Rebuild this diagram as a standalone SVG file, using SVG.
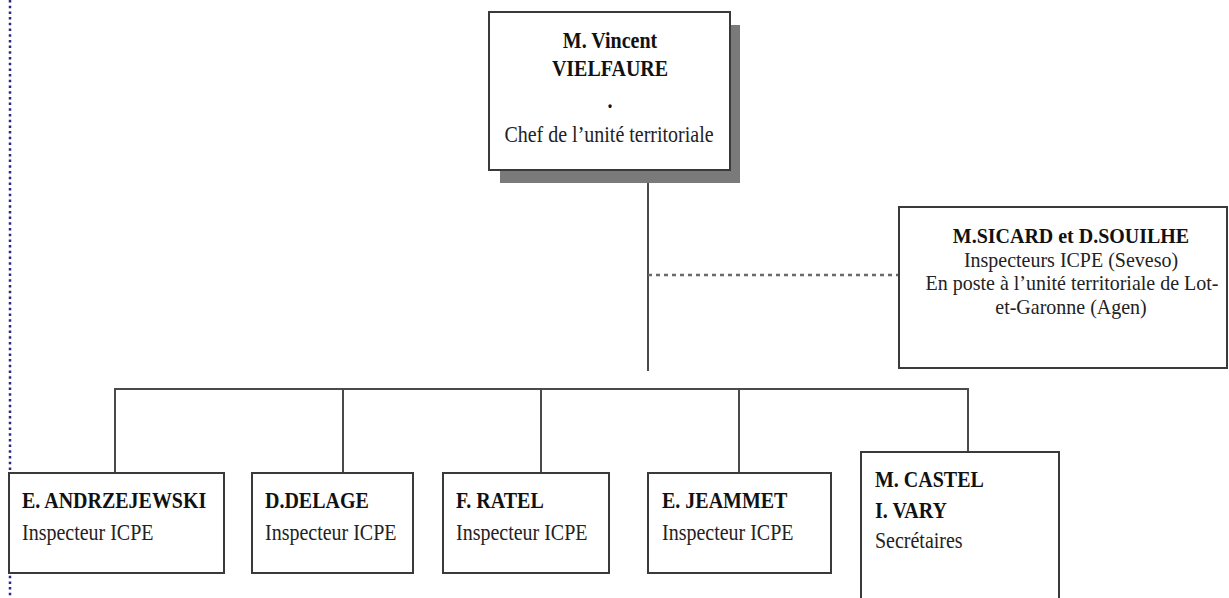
<svg xmlns="http://www.w3.org/2000/svg" width="1229" height="598" viewBox="0 0 1229 598">
<style>
.box{fill:#fff;stroke:#3a3a3a;stroke-width:2}
.shadow{fill:#7a7a7a}
.line{stroke:#4a4a4a;stroke-width:2;fill:none}
.dash{stroke:#6a6a6a;stroke-width:2.5;stroke-dasharray:4 4;fill:none}
.b{font-family:"Liberation Serif",serif;font-weight:bold;font-size:23.5px;fill:#111}
.r{font-family:"Liberation Serif",serif;font-size:23.5px;fill:#222}
.s{font-size:20.5px}
.c{text-anchor:middle}
</style>
<rect width="1229" height="598" fill="#fff"/>
<line x1="10" y1="0" x2="10" y2="598" stroke="#2b2b85" stroke-width="2.5" stroke-dasharray="2.5 3.2"/>
<g id="connectors">
<line class="line" x1="648" y1="170" x2="648" y2="371"/>
<line class="dash" x1="648" y1="275" x2="899" y2="275"/>
<line class="line" x1="115" y1="389" x2="969" y2="389"/>
<line class="line" x1="115" y1="388" x2="115" y2="473"/>
<line class="line" x1="343" y1="388" x2="343" y2="473"/>
<line class="line" x1="541" y1="388" x2="541" y2="473"/>
<line class="line" x1="739" y1="388" x2="739" y2="473"/>
<line class="line" x1="968" y1="388" x2="968" y2="452"/>
</g>
<g id="chef">
<rect class="shadow" x="500" y="25" width="240" height="158"/>
<rect class="box" x="489" y="12" width="241" height="158"/>
<text class="b c" transform="translate(610 48) scale(0.851 1)">M. Vincent</text>
<text class="b c" transform="translate(610 76) scale(0.851 1)">VIELFAURE</text>
<text class="b c" transform="translate(610 108) scale(0.851 1)">.</text>
<text class="r c" transform="translate(609 142) scale(0.851 1)">Chef de l’unité territoriale</text>
</g>
<g id="seveso">
<rect class="box" x="899" y="207" width="328" height="161"/>
<text class="b c s" transform="translate(1071 243) scale(0.975 1)">M.SICARD et D.SOUILHE</text>
<text class="r c s" transform="translate(1071 266.5) scale(0.975 1)">Inspecteurs ICPE (Seveso)</text>
<text class="r c s" transform="translate(1072 290) scale(0.975 1)">En poste à l’unité territoriale de Lot-</text>
<text class="r c s" transform="translate(1071 313.5) scale(0.975 1)">et-Garonne (Agen)</text>
</g>
<g id="andrzejewski">
<rect class="box" x="9" y="473" width="215" height="100"/>
<text class="b" transform="translate(22 508) scale(0.851 1)">E. ANDRZEJEWSKI</text>
<text class="r" transform="translate(22 540) scale(0.851 1)">Inspecteur ICPE</text>
</g>
<g id="delage">
<rect class="box" x="252" y="473" width="161" height="100"/>
<text class="b" transform="translate(265 508) scale(0.851 1)">D.DELAGE</text>
<text class="r" transform="translate(265 540) scale(0.851 1)">Inspecteur ICPE</text>
</g>
<g id="ratel">
<rect class="box" x="443" y="473" width="166" height="100"/>
<text class="b" transform="translate(456 508) scale(0.851 1)">F. RATEL</text>
<text class="r" transform="translate(456 540) scale(0.851 1)">Inspecteur ICPE</text>
</g>
<g id="jeammet">
<rect class="box" x="648" y="473" width="183" height="100"/>
<text class="b" transform="translate(662 508) scale(0.851 1)">E. JEAMMET</text>
<text class="r" transform="translate(662 540) scale(0.851 1)">Inspecteur ICPE</text>
</g>
<g id="secretaires">
<rect class="box" x="861" y="452" width="198" height="160"/>
<text class="b" transform="translate(875 487) scale(0.851 1)">M. CASTEL</text>
<text class="b" transform="translate(875 518) scale(0.851 1)">I. VARY</text>
<text class="r" transform="translate(875 548) scale(0.851 1)">Secrétaires</text>
</g>
</svg>
